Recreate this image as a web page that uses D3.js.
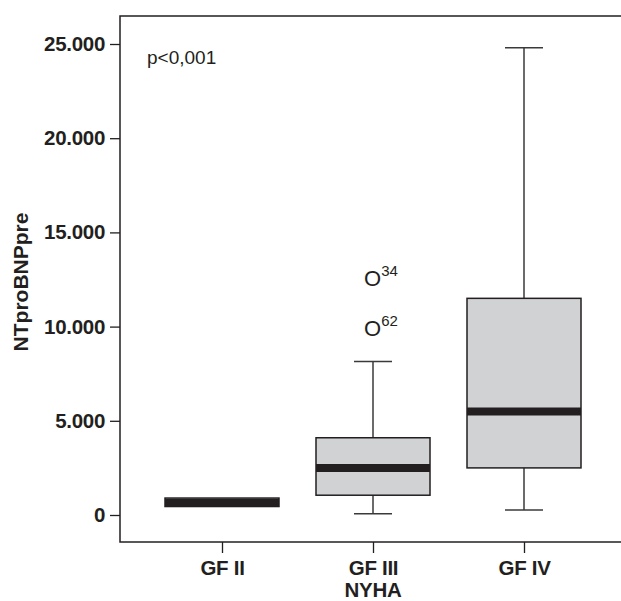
<!DOCTYPE html>
<html><head><meta charset="utf-8">
<script src="https://cdn.jsdelivr.net/npm/d3@7"></script>
<style>body{margin:0;background:#fff}svg{display:block}text{font-family:"Liberation Sans",Arial,Helvetica,sans-serif;fill:#231f20}</style>
</head><body>
<svg id="c" width="621" height="601"></svg>
<script>
const categories = ["GF II", "GF III", "GF IV"];
const q1 = [450, 1050, 2500];
const median = [650, 2500, 5500];
const q3 = [900, 4100, 11500];
const whiskerLow = [450, 60, 270];
const whiskerHigh = [900, 8150, 24800];
const outlierCategory = ["GF III", "GF III"];
const outlierValues = [12600, 9900];
const outlierLabels = ["34", "62"];
const yTicks = [0, 5000, 10000, 15000, 20000, 25000];
const yTickLabels = ["0", "5.000", "10.000", "15.000", "20.000", "25.000"];

const svg = d3.select("#c");
const frame = {left: 120, top: 16, right: 640, bottom: 542};
const x = d3.scalePoint().domain(categories).range([222, 524]);
const y = d3.scaleLinear().domain([0, 25000]).range([515, 44]);
const boxW = 114, capW = 38;
const dark = "#3a3a3a";

// frame
svg.append("rect").attr("x", frame.left).attr("y", frame.top)
  .attr("width", frame.right - frame.left).attr("height", frame.bottom - frame.top)
  .attr("fill", "none").attr("stroke", "#231f20").attr("stroke-width", 1.5);

// y axis
const yAxis = d3.axisLeft(y).tickValues(yTicks).tickSize(10).tickPadding(5)
  .tickFormat((d, i) => yTickLabels[i]);
const gy = svg.append("g").attr("transform", `translate(${frame.left},0)`).call(yAxis);
gy.select(".domain").remove();
gy.selectAll(".tick line").attr("stroke", "#231f20").attr("stroke-width", 1.3);
gy.selectAll(".tick text").attr("font-size", 20.5).attr("font-weight", "bold")
  .attr("font-family", "Liberation Sans, Arial, sans-serif").attr("fill", "#231f20")
  .attr("letter-spacing", -0.3);

// x axis
const xAxis = d3.axisBottom(x).tickSize(11).tickPadding(7);
const gx = svg.append("g").attr("transform", `translate(0,${frame.bottom})`).call(xAxis);
gx.select(".domain").remove();
gx.selectAll(".tick line").attr("stroke", "#231f20").attr("stroke-width", 1.3);
gx.selectAll(".tick text").attr("font-size", 20.5).attr("font-weight", "bold")
  .attr("font-family", "Liberation Sans, Arial, sans-serif").attr("fill", "#231f20")
  .attr("letter-spacing", -0.3);

// axis titles
svg.append("text").attr("x", x("GF III")).attr("y", 597)
  .attr("text-anchor", "middle").attr("font-size", 20.5).attr("font-weight", "bold")
  .attr("letter-spacing", -0.3).text("NYHA");
svg.append("text").attr("transform", `translate(28,${(frame.top + frame.bottom) / 2 + 3}) rotate(-90)`)
  .attr("text-anchor", "middle").attr("font-size", 21).attr("font-weight", "bold").text("NTproBNPpre");

// boxes
const data = categories.map((c, i) => ({c, q1: q1[i], med: median[i], q3: q3[i], lo: whiskerLow[i], hi: whiskerHigh[i]}));
const g = svg.append("g");
data.forEach(d => {
  const cx = x(d.c);
  if (d.hi > d.q3) {
    g.append("line").attr("x1", cx).attr("x2", cx).attr("y1", y(d.q3)).attr("y2", y(d.hi)).attr("stroke", dark).attr("stroke-width", 1.5);
    g.append("line").attr("x1", cx - capW / 2).attr("x2", cx + capW / 2).attr("y1", y(d.hi)).attr("y2", y(d.hi)).attr("stroke", dark).attr("stroke-width", 1.5);
  }
  if (d.lo < d.q1) {
    g.append("line").attr("x1", cx).attr("x2", cx).attr("y1", y(d.q1)).attr("y2", y(d.lo)).attr("stroke", dark).attr("stroke-width", 1.5);
    g.append("line").attr("x1", cx - capW / 2).attr("x2", cx + capW / 2).attr("y1", y(d.lo)).attr("y2", y(d.lo)).attr("stroke", dark).attr("stroke-width", 1.5);
  }
  g.append("rect").attr("x", cx - boxW / 2).attr("y", y(d.q3)).attr("width", boxW)
    .attr("height", y(d.q1) - y(d.q3)).attr("fill", "#d1d2d4").attr("stroke", "#231f20").attr("stroke-width", 1.5);
  g.append("line").attr("x1", cx - boxW / 2).attr("x2", cx + boxW / 2)
    .attr("y1", y(d.med)).attr("y2", y(d.med)).attr("stroke", "#231f20").attr("stroke-width", 8);
});

// outliers
outlierValues.forEach((v, i) => {
  const t = svg.append("text").attr("x", x(outlierCategory[i]) - 9).attr("y", y(v) + 8)
    .attr("font-size", 22);
  t.append("tspan").text("O");
  t.append("tspan").attr("font-size", 15).attr("dy", -10).attr("dx", 0).text(outlierLabels[i]);
});

// p value
svg.append("text").attr("x", 147).attr("y", 64).attr("font-size", 19).text("p<0,001");
</script>
</body></html>
